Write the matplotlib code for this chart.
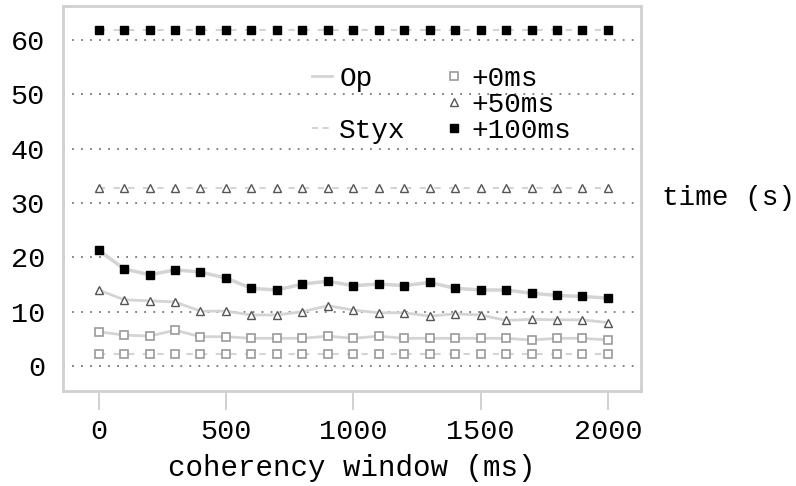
import numpy as np
import matplotlib
matplotlib.use("Agg")
import matplotlib.pyplot as plt
from matplotlib.lines import Line2D

plt.rcParams['font.family'] = ['Liberation Mono', 'DejaVu Sans Mono']

window = list(range(0, 2001, 100))

op_0 = [6.3, 5.7, 5.5, 6.6, 5.4, 5.4, 5.1, 5.1, 5.1, 5.5, 5.1,
        5.5, 5.1, 5.1, 5.1, 5.1, 5.1, 4.8, 5.1, 5.1, 4.8]
op_50 = [14.0, 12.2, 12.0, 11.8, 10.1, 10.1, 9.4, 9.4, 10.0, 11.1, 10.3,
         9.8, 9.8, 9.2, 9.6, 9.4, 8.4, 8.6, 8.5, 8.5, 8.0]
op_100 = [21.3, 17.9, 16.8, 17.7, 17.3, 16.2, 14.3, 14.0, 15.1, 15.6, 14.8,
          15.1, 14.8, 15.4, 14.3, 14.0, 14.0, 13.4, 13.0, 12.8, 12.5]
styx_0 = [2.3] * 21
styx_50 = [32.8] * 21
styx_100 = [61.8] * 21

yticks = [0, 10, 20, 30, 40, 50, 60]
xticks = [0, 500, 1000, 1500, 2000]

line_col = '#d4d4d4'
sq_kw = dict(marker='s', markersize=6, markerfacecolor='white', markeredgecolor='#9a9a9a', markeredgewidth=1.2)
tri_kw = dict(marker='^', markersize=6, markerfacecolor='white', markeredgecolor='#555555', markeredgewidth=1.0)
blk_kw = dict(marker='s', markersize=5.5, markerfacecolor='black', markeredgecolor='black')

fig = plt.figure(figsize=(7.96, 4.86), dpi=100)
ax = fig.add_axes([0.0791, 0.1955, 0.7262, 0.7922])

for yv in yticks:
    ax.axhline(yv, color='#777777', linestyle=(0, (1, 4)), linewidth=1.3, zorder=1)

ax.plot(window, op_0, color=line_col, lw=2, zorder=2, **sq_kw)
ax.plot(window, op_50, color=line_col, lw=2, zorder=2, **tri_kw)
ax.plot(window, op_100, color=line_col, lw=2.5, zorder=2, **blk_kw)
ax.plot(window, styx_0, color=line_col, lw=1.5, ls=(0, (3, 4)), zorder=2, **sq_kw)
ax.plot(window, styx_50, color=line_col, lw=1.5, ls=(0, (3, 4)), zorder=2, **tri_kw)
ax.plot(window, styx_100, color=line_col, lw=1.5, ls=(0, (3, 4)), zorder=2, **blk_kw)

ax.set_xlim(-140, 2130)
ax.set_ylim(-4.6, 66.3)
ax.set_xticks(xticks)
ax.set_yticks(yticks)
ax.tick_params(axis='x', direction='out', length=14, width=1.2, color='#c8c8c8', pad=6, labelsize=20.5)
ax.tick_params(axis='y', length=0, pad=13, labelsize=20.5)
for s in ax.spines.values():
    s.set_color('#d0d0d0')
    s.set_linewidth(2)

ax.set_xlabel('coherency window (ms)', fontsize=21, labelpad=7)
fig.text(0.832, 0.592, 'time (s)', fontsize=20, va='center', ha='left')

blank = Line2D([], [], linestyle='none')
handles = [Line2D([], [], color=line_col, lw=2),
           blank,
           Line2D([], [], color=line_col, lw=1.5, ls=(0, (3, 2))),
           Line2D([], [], linestyle='none', **sq_kw),
           Line2D([], [], linestyle='none', **tri_kw),
           Line2D([], [], linestyle='none', **blk_kw)]
labels = ['Op', '', 'Styx', '+0ms', '+50ms', '+100ms']
ax.legend(handles, labels, ncol=2, loc='upper left', bbox_to_anchor=(0.43, 0.845),
          frameon=False, fontsize=20, handlelength=0.75, handletextpad=0.25,
          columnspacing=1.35, labelspacing=0.0, borderpad=0, borderaxespad=0)

fig.savefig('out.png', dpi=100)
